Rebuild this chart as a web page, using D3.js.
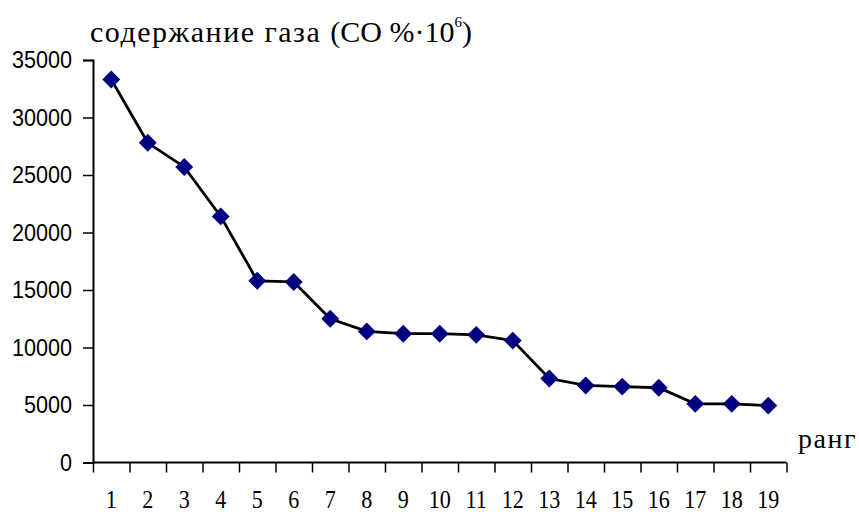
<!DOCTYPE html>
<html>
<head>
<meta charset="utf-8">
<script src="https://cdn.jsdelivr.net/npm/d3@7"></script>
<style>
	body { margin: 0; background: #fff; }
	svg { display: block; }
	.y-axis text { font-family: "Liberation Sans", Arial, sans-serif; font-size: 24px; fill: #000; }
	.x-axis text { font-family: "Liberation Serif", "Times New Roman", serif; font-size: 26px; fill: #000; }
	.caption { font-family: "Liberation Serif", "Times New Roman", serif; fill: #000; }
</style>
</head>
<body>
<svg width="859" height="514"></svg>
<script>
// ранги и содержание CO
const ranks = ["1","2","3","4","5","6","7","8","9","10","11","12","13","14","15","16","17","18","19"];
const gasValues = [33300, 27800, 25700, 21400, 15800, 15700, 12500, 11400, 11200, 11200,
	11100, 10600, 7300, 6700, 6600, 6500, 5100, 5100, 4950];
const yTicks = [0, 5000, 10000, 15000, 20000, 25000, 30000, 35000];

let svg = d3.select("svg");
let plotLeft = 93, plotRight = 786.5, plotTop = 60, plotBottom = 462.5;

let x = d3.scaleBand().domain(ranks).range([plotLeft, plotRight]);
let xEdges = d3.scaleLinear().domain([0, ranks.length]).range([plotLeft, plotRight]);
let y = d3.scaleLinear().domain([0, 35000]).range([plotBottom, plotTop]);

/* ---- axes ---- */
let gy = svg.append("g")
	.attr("class", "y-axis")
	.attr("transform", "translate(" + plotLeft + ",0)")
	.call(d3.axisLeft(y).tickValues(yTicks).tickSize(10).tickPadding(11).tickFormat(d3.format("d")));
gy.select(".domain").attr("stroke", "#000").attr("stroke-width", 2);
gy.selectAll(".tick line").attr("stroke", "#000").attr("stroke-width", 1.5);
// the bitmap font of the original is a bit narrower
gy.selectAll(".tick text")
	.attr("x", -21 / 0.9)
	.attr("transform", "scale(0.9,1)");

let gEdge = svg.append("g")
	.attr("transform", "translate(0," + plotBottom + ")")
	.call(d3.axisBottom(xEdges).ticks(ranks.length).tickSize(10).tickFormat(""));
gEdge.select(".domain").attr("stroke", "#000").attr("stroke-width", 2)
	.attr("d", "M" + plotLeft + ",0H" + plotRight);
gEdge.selectAll(".tick line").attr("stroke", "#000").attr("stroke-width", 1.5);

let gx = svg.append("g")
	.attr("class", "x-axis")
	.attr("transform", "translate(0," + plotBottom + ")")
	.call(d3.axisBottom(x).tickSize(0));
gx.select(".domain").remove();
gx.selectAll(".tick text")
	.attr("y", 45.5)
	.attr("dy", null)
	.attr("transform", "scale(0.85,1)");

/* ---- line + markers ---- */
let data = ranks.map((r, i) => ({ rank: r, value: gasValues[i] }));

svg.append("path")
	.datum(data)
	.attr("fill", "none")
	.attr("stroke", "#000")
	.attr("stroke-width", 2.8)
	.attr("d", d3.line()
		.x(d => x(d.rank) + x.bandwidth() / 2)
		.y(d => y(d.value)));

svg.selectAll(".marker")
	.data(data)
	.enter().append("path")
	.attr("class", "marker")
	.attr("d", d3.symbol(d3.symbolSquare, 160))
	.attr("transform", d => "translate(" + (x(d.rank) + x.bandwidth() / 2) + "," + y(d.value) + ") rotate(45)")
	.attr("fill", "#000080");

/* ---- captions ---- */
let title = svg.append("text")
	.attr("class", "caption")
	.attr("font-size", "30px")
	.attr("x", 90)
	.attr("y", 42);
title.append("tspan").attr("letter-spacing", "1.5px").text("содержание газа ");
title.append("tspan").text("(CO %·10");
title.append("tspan").attr("dy", -15).attr("font-size", "15px").text("6");
title.append("tspan").attr("dy", 15).text(")");

svg.append("text")
	.attr("class", "caption")
	.attr("font-size", "28px")
	.attr("letter-spacing", "1.5px")
	.attr("x", 798)
	.attr("y", 448)
	.text("ранг");
</script>
</body>
</html>
